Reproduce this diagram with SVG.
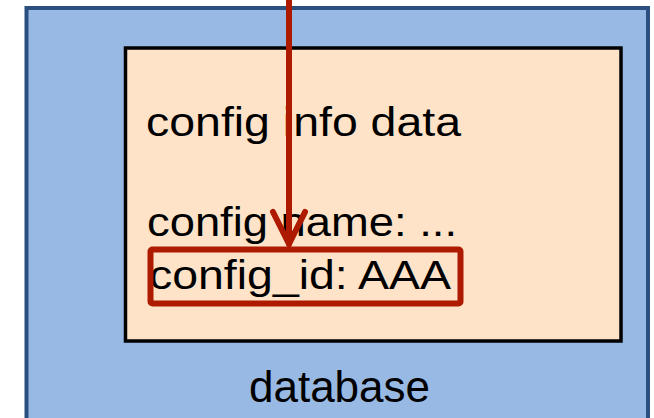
<svg xmlns="http://www.w3.org/2000/svg" width="654" height="418" viewBox="0 0 654 418">
  <style>
    .t { font-family: "Liberation Sans", Arial, sans-serif; fill: #000; }
    .cfg { font-size: 40px; }
    .db { font-size: 44px; }
    .arrow { fill: none; stroke: #ad1a00; stroke-width: 6; stroke-linecap: round; stroke-linejoin: round; }
  </style>
  <rect width="654" height="418" fill="#ffffff"/>
  <g id="database">
    <rect x="26.5" y="8" width="621.5" height="420" fill="#98b9e3" stroke="#2b4f7e" stroke-width="4"/>
    <text class="t db" x="339.5" y="402" text-anchor="middle">database</text>
  </g>
  <g id="config-info">
    <rect x="125.5" y="48" width="495.5" height="293" fill="#fee3c8" stroke="#000" stroke-width="3.5"/>
    <text class="t cfg" x="146" y="136" textLength="315" lengthAdjust="spacingAndGlyphs">config info data</text>
    <text class="t cfg" x="147" y="236" textLength="310" lengthAdjust="spacingAndGlyphs">config name: ...</text>
    <text class="t cfg" x="149" y="289" textLength="302" lengthAdjust="spacingAndGlyphs">config_id: AAA</text>
  </g>
  <g id="config-id-highlight">
    <rect x="150.5" y="249.5" width="310" height="54" rx="2" fill="none" stroke="#ad1a00" stroke-width="6"/>
  </g>
  <g id="connectors">
    <line class="arrow" x1="289" y1="-5" x2="289" y2="244"/>
    <polyline class="arrow" points="273,212 289,244 305,212"/>
  </g>
</svg>
